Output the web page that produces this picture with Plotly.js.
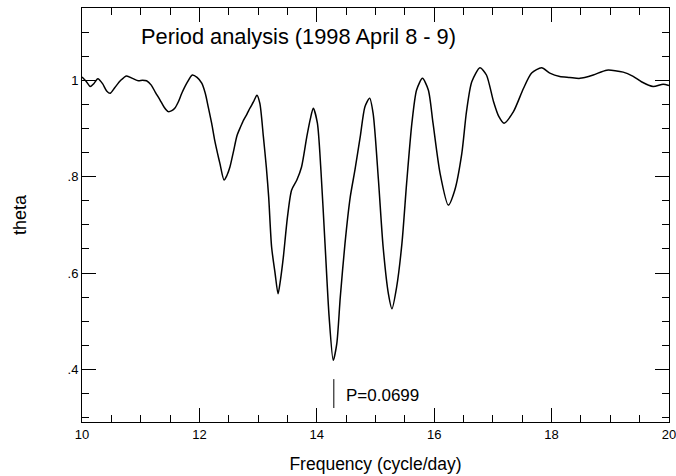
<!DOCTYPE html>
<html>
<head>
<meta charset="utf-8">
<script src="https://cdn.plot.ly/plotly-3.0.1.min.js"></script>
<style>html,body{margin:0;padding:0;background:#fff;}#chart{width:676px;height:476px;}</style>
</head>
<body>
<div id="chart"></div>
<script>
const frequency = [10.00,10.07,10.14,10.20,10.27,10.35,10.42,10.48,10.56,10.66,10.76,10.86,10.96,11.03,11.10,11.18,11.25,11.33,11.40,11.47,11.53,11.58,11.64,11.70,11.79,11.88,11.96,12.04,12.10,12.15,12.21,12.26,12.31,12.35,12.42,12.47,12.52,12.58,12.64,12.70,12.75,12.81,12.86,12.92,12.98,13.03,13.09,13.14,13.18,13.23,13.29,13.34,13.38,13.43,13.50,13.57,13.66,13.74,13.83,13.89,13.94,14.01,14.07,14.14,14.21,14.28,14.34,14.40,14.48,14.57,14.65,14.74,14.82,14.90,14.96,15.05,15.13,15.22,15.28,15.36,15.45,15.53,15.62,15.70,15.80,15.90,15.98,16.10,16.24,16.35,16.47,16.55,16.64,16.78,16.89,17.01,17.10,17.19,17.35,17.52,17.66,17.83,17.97,18.14,18.31,18.48,18.71,18.94,19.22,19.39,19.53,19.73,19.90,20.00];
const theta = [1.007,0.998,0.987,0.993,1.003,0.993,0.978,0.973,0.985,1.000,1.009,1.004,0.999,1.000,0.999,0.990,0.975,0.959,0.944,0.935,0.937,0.942,0.955,0.973,0.995,1.011,1.006,0.994,0.973,0.945,0.910,0.876,0.848,0.827,0.793,0.803,0.820,0.852,0.885,0.903,0.917,0.930,0.942,0.955,0.969,0.952,0.883,0.820,0.758,0.654,0.599,0.557,0.585,0.633,0.716,0.772,0.793,0.820,0.883,0.920,0.942,0.911,0.814,0.661,0.509,0.419,0.453,0.550,0.661,0.758,0.814,0.883,0.945,0.963,0.931,0.793,0.654,0.557,0.526,0.571,0.661,0.786,0.911,0.980,1.004,0.980,0.911,0.807,0.741,0.772,0.848,0.935,0.997,1.026,1.011,0.956,0.925,0.911,0.935,0.983,1.015,1.026,1.015,1.008,1.006,1.004,1.011,1.021,1.017,1.008,0.997,0.987,0.992,0.989];
const xTickVals = [10, 12, 14, 16, 18, 20];
const xTickText = ['10', '12', '14', '16', '18', '20'];
const yTickVals = [0.4, 0.6, 0.8, 1.0];
const yTickText = ['.4', '.6', '.8', '1'];
const period = 0.0699;
const markerFreq = [14.29, 14.29];
const markerTheta = [0.320, 0.380];

const font = 'Liberation Sans, Arial, sans-serif';
const traces = [
  {x: frequency, y: theta, type: 'scatter', mode: 'lines',
   line: {color: '#000', width: 1.5, shape: 'spline', smoothing: 0.7}, hoverinfo: 'skip'},
  {x: markerFreq, y: markerTheta, type: 'scatter', mode: 'lines',
   line: {color: '#000', width: 1}, hoverinfo: 'skip'}
];
const axisCommon = {
  showgrid: false, zeroline: false, showline: true, linecolor: '#000', linewidth: 1,
  mirror: 'ticks', ticks: 'inside', ticklen: 14, tickwidth: 1, tickcolor: '#000',
  tickfont: {family: font, size: 13, color: '#000'}, ticklabeloverflow: 'allow'
};
const layout = {
  width: 676, height: 476,
  margin: {l: 82, r: 7, t: 8, b: 54},
  paper_bgcolor: '#fff', plot_bgcolor: '#fff',
  showlegend: false,
  font: {family: font, color: '#000'},
  xaxis: Object.assign({}, axisCommon, {
    range: [10, 20], tickmode: 'array', tickvals: xTickVals, ticktext: xTickText,
    minor: {tickmode: 'linear', dtick: 0.5, tick0: 10, ticks: 'inside', ticklen: 7, tickcolor: '#000', tickwidth: 1},
    title: {text: 'Frequency (cycle/day)', font: {family: font, size: 17.5, color: '#000'}, standoff: 17}
  }),
  yaxis: Object.assign({}, axisCommon, {
    range: [0.291, 1.15], tickmode: 'array', tickvals: yTickVals, ticktext: yTickText,
    minor: {tickmode: 'linear', dtick: 0.05, tick0: 0, ticks: 'inside', ticklen: 7, tickcolor: '#000', tickwidth: 1},
    title: {text: 'theta', font: {family: font, size: 18, color: '#000'}, standoff: 36}
  }),
  annotations: [
    {text: 'Period analysis (1998 April 8 - 9)', xref: 'paper', yref: 'paper', x: 0.368, y: 0.93, xanchor: 'center', yanchor: 'middle', showarrow: false, font: {family: font, size: 21.8, color: '#000'}},
    {text: 'P=' + period.toFixed(4), xref: 'x', yref: 'y', x: 14.46, y: 0.347, xanchor: 'left', yanchor: 'middle', showarrow: false, font: {family: font, size: 17, color: '#000'}}
  ]
};
Plotly.newPlot('chart', traces, layout, {displayModeBar: false, staticPlot: true});
</script>
</body>
</html>
